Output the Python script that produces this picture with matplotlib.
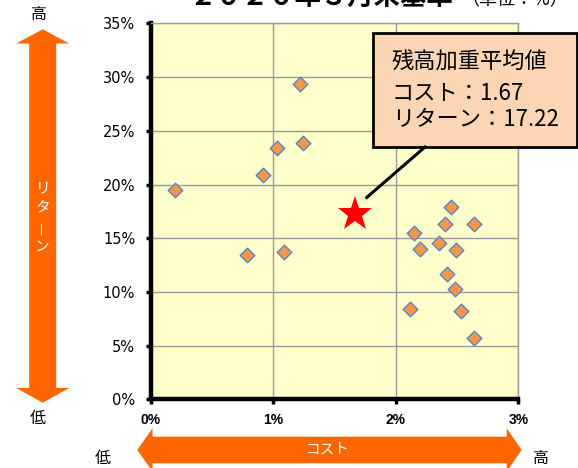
import matplotlib
matplotlib.use("Agg")
import matplotlib.pyplot as plt
from matplotlib.patches import Polygon, Rectangle
from matplotlib.ticker import FuncFormatter, MultipleLocator

JP = ["Noto Sans CJK JP", "DejaVu Sans"]

# fund cost (%) and return (%)
cost = [1.22, 1.24, 1.03, 0.92, 0.20, 0.79, 1.09,
        2.45, 2.40, 2.64, 2.15, 2.20, 2.35, 2.49, 2.42, 2.48, 2.12, 2.53, 2.64]
ret = [29.4, 23.9, 23.4, 20.9, 19.5, 13.4, 13.7,
       17.9, 16.3, 16.3, 15.5, 14.0, 14.6, 13.9, 11.7, 10.3, 8.4, 8.2, 5.7]

# balance-weighted average
avg_cost = 1.67
avg_ret = 17.22

title = "２０２０年３月末基準"
unit_note = "（単位：%）"
box_lines = ["残高加重平均値", f"コスト：{avg_cost:.2f}", f"リターン：{avg_ret:.2f}"]

ORANGE = "#FF6600"
W, H = 578, 468

fig = plt.figure(figsize=(W / 100, H / 100), dpi=100)
ax = fig.add_axes([150.5 / W, 1 - 399.4 / H, 367.8 / W, 376.0 / H])
ax.set_facecolor("#FFFFCC")

ax.scatter(cost, ret, marker="D", s=55, facecolor="#F79646", edgecolor="#5B86C0",
           linewidth=1.0, zorder=3)
ax.plot([avg_cost], [avg_ret], marker="*", markersize=26, color="red",
        markeredgewidth=0, linestyle="none", zorder=4)

ax.set_xlim(0, 3)
ax.set_ylim(0, 35)
ax.xaxis.set_major_locator(MultipleLocator(1))
ax.yaxis.set_major_locator(MultipleLocator(5))
ax.xaxis.set_major_formatter(FuncFormatter(lambda v, p: f"{v:.0f}%"))
ax.yaxis.set_major_formatter(FuncFormatter(lambda v, p: f"{v:.0f}%"))
ax.grid(True, color="#9a9a9a", linewidth=1.0, zorder=0)
ax.set_axisbelow(True)

for side in ("left", "bottom"):
    ax.spines[side].set_linewidth(3.2)
    ax.spines[side].set_color("black")
for side in ("top", "right"):
    ax.spines[side].set_linewidth(1.0)
    ax.spines[side].set_color("#9a9a9a")

ax.tick_params(axis="y", direction="out", length=3.5, width=2.5, pad=7.5,
               labelsize=10.5)
ax.tick_params(axis="x", direction="out", length=3.5, width=2.5, pad=6,
               labelsize=10)
for lbl in ax.get_xticklabels():
    lbl.set_fontfamily(["Liberation Sans Narrow", "Liberation Sans"])
    lbl.set_fontweight("bold")

# overlay in pixel coordinates for arrows, labels and the callout box
ov = fig.add_axes([0, 0, 1, 1], zorder=5)
ov.set_xlim(0, W)
ov.set_ylim(H, 0)
ov.axis("off")
ov.patch.set_alpha(0)

# vertical return arrow
cx = 42.7
vert = [(cx, 29.3), (cx + 26.5, 43.5), (cx + 13.5, 43.5), (cx + 13.5, 388),
        (cx + 26.5, 388), (cx, 402.7), (cx - 26.5, 388), (cx - 13.5, 388),
        (cx - 13.5, 43.5), (cx - 26.5, 43.5)]
ov.add_patch(Polygon(vert, closed=True, color=ORANGE, linewidth=0))
for ch, yy, rot in [("リ", 188, 0), ("タ", 208, 0), ("ー", 228, 90), ("ン", 247, 0)]:
    ov.text(cx, yy, ch, color="white", fontsize=10.5, family=JP,
            ha="center", va="center", rotation=rot)
ov.text(39, 14, "高", fontsize=11.5, family=JP, ha="center", va="center")
ov.text(37.5, 419, "低", fontsize=11.5, family=JP, ha="center", va="center")

# horizontal cost arrow
cy = 450
horz = [(137.3, cy), (152.5, cy - 21.7), (152.5, cy - 13.3), (506.7, cy - 13.3),
        (506.7, cy - 21.7), (521.7, cy), (506.7, cy + 21.7), (506.7, cy + 13.3),
        (152.5, cy + 13.3), (152.5, cy + 21.7)]
ov.add_patch(Polygon(horz, closed=True, color=ORANGE, linewidth=0))
ov.text(328, cy, "コスト", color="white", fontsize=10.5, family=JP,
        ha="center", va="center")
ov.text(103, 458, "低", fontsize=11.5, family=JP, ha="center", va="center")
ov.text(541, 458, "高", fontsize=11.5, family=JP, ha="center", va="center")

# title, clipped at the top edge
ov.text(321, 5, title, fontsize=19, fontweight="bold", family=JP,
        ha="center", va="baseline")
ov.text(461, 5, unit_note, fontsize=13, family=JP, ha="left", va="baseline")

# callout for the weighted average
ov.plot([366.7, 425], [197.5, 147], color="black", linewidth=2.2)
ov.add_patch(Rectangle((372.7, 33.3), 204, 114, facecolor="#FCD5B5",
                       edgecolor="black", linewidth=2))
for line, yy in zip(box_lines, [62.5, 92.5, 120]):
    ov.text(391.7, yy, line, fontsize=16, family=JP, ha="left", va="center")

fig.savefig("out.png", dpi=100)
